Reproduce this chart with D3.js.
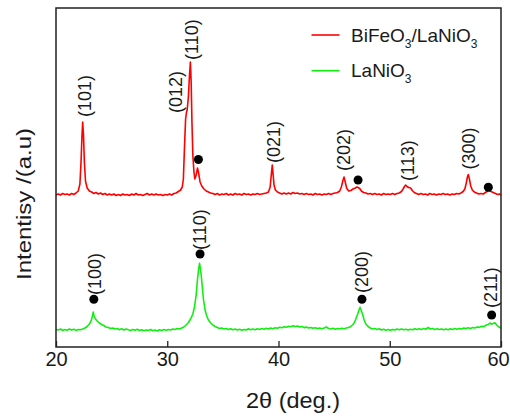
<!DOCTYPE html>
<html>
<head>
<meta charset="utf-8">
<script src="https://cdn.jsdelivr.net/npm/d3@7/dist/d3.min.js"></script>
<style>
    body { margin: 0; background: #fff; }
    text { font-family: "Liberation Sans", Arial, sans-serif; fill: #1a1a1a; }
</style>
</head>
<body>
<div id="chart"><svg></svg></div>
<script>
// BiFeO3/LaNiO3 film, [2theta, intensity a.u.] (offset above the LaNiO3 trace)
var bfoPattern = [
    [20.0, 152], [20.2, 153], [20.4, 152], [20.6, 153.5], [20.8, 152.5], [21.0, 153], [21.2, 152], [21.4, 153.5],
    [21.6, 152.5], [21.8, 154], [22.0, 156], [22.15, 163], [22.25, 185], [22.33, 210], [22.4, 225], [22.47, 212],
    [22.55, 185], [22.65, 166], [22.8, 159], [23.0, 156], [23.2, 155], [23.4, 153.5], [23.6, 154.5], [23.8, 153],
    [24.0, 154], [24.2, 152.5], [24.4, 153.5], [24.6, 152], [24.8, 153], [25.0, 152], [25.2, 153], [25.4, 151.5],
    [25.6, 152.5], [25.8, 151.5], [26.0, 153], [26.2, 152], [26.4, 152.5], [26.6, 151.5], [26.8, 153], [27.0, 152],
    [27.2, 153.5], [27.4, 152], [27.6, 152.5], [27.8, 151.5], [28.0, 152.5], [28.2, 153.5], [28.4, 152], [28.6, 153],
    [28.8, 152], [29.0, 153], [29.2, 152], [29.4, 152.5], [29.6, 151.5], [29.8, 152.5], [30.0, 152], [30.2, 153],
    [30.4, 152], [30.6, 153.5], [30.8, 154], [31.0, 155.5], [31.2, 157], [31.35, 160], [31.45, 168], [31.55, 200],
    [31.65, 228], [31.72, 234], [31.8, 238], [31.9, 250], [32.0, 272], [32.08, 285], [32.15, 265], [32.22, 225],
    [32.3, 192], [32.4, 175], [32.48, 168], [32.6, 172], [32.72, 179], [32.82, 174], [32.95, 165], [33.1, 161],
    [33.3, 158], [33.5, 156], [33.7, 155], [33.9, 154], [34.1, 153.5], [34.3, 152.5], [34.5, 153.5], [34.7, 152],
    [34.9, 153], [35.1, 152.5], [35.3, 153.5], [35.5, 152], [35.7, 153], [35.9, 152], [36.1, 153.5], [36.3, 152.5],
    [36.5, 153], [36.7, 152], [36.9, 153.5], [37.1, 152.5], [37.3, 153], [37.5, 152], [37.7, 153], [37.9, 152.5],
    [38.1, 153.5], [38.3, 152.5], [38.5, 153], [38.7, 153.5], [38.9, 154], [39.1, 155], [39.25, 160], [39.35, 172],
    [39.44, 182], [39.52, 172], [39.6, 162], [39.72, 157], [39.9, 155], [40.1, 154], [40.3, 153], [40.5, 154],
    [40.7, 153], [40.9, 154], [41.1, 153], [41.3, 154.5], [41.5, 153.5], [41.7, 154], [41.9, 153], [42.1, 153.5],
    [42.3, 152.5], [42.5, 153.5], [42.7, 152.5], [42.9, 153], [43.1, 152], [43.3, 153.5], [43.5, 152.5], [43.7, 153],
    [43.9, 152], [44.1, 153], [44.3, 152.5], [44.5, 153.5], [44.7, 152.5], [44.9, 153.5], [45.1, 154], [45.3, 154.5],
    [45.5, 156], [45.65, 160], [45.78, 166], [45.89, 170], [46.0, 165], [46.12, 159], [46.3, 156], [46.5, 156.5],
    [46.7, 158], [46.9, 159], [47.05, 160], [47.15, 159.5], [47.3, 158.5], [47.45, 156], [47.65, 154.5], [47.85, 154],
    [48.05, 153], [48.25, 153.5], [48.45, 152.5], [48.65, 153.5], [48.85, 152.5], [49.05, 153], [49.25, 152],
    [49.45, 153.5], [49.65, 152.5], [49.85, 153], [50.05, 152.5], [50.25, 153.5], [50.45, 152.5], [50.65, 153.5],
    [50.85, 154], [51.05, 155.5], [51.2, 158], [51.32, 160.5], [51.43, 162], [51.55, 160.5], [51.7, 159.5],
    [51.88, 159], [52.02, 156.5], [52.2, 154.5], [52.4, 153.5], [52.6, 152.5], [52.8, 153.5], [53.0, 152.5],
    [53.2, 153], [53.4, 152], [53.6, 153.5], [53.8, 152.5], [54.0, 153], [54.2, 152], [54.4, 153], [54.6, 152.5],
    [54.8, 153.5], [55.0, 152.5], [55.2, 153], [55.4, 152], [55.6, 153], [55.8, 152.5], [56.0, 153.5], [56.2, 153],
    [56.4, 154], [56.6, 155.5], [56.75, 158], [56.88, 164], [56.98, 170], [57.06, 172.5], [57.16, 168], [57.28, 161],
    [57.42, 157], [57.6, 155], [57.8, 154], [58.0, 153], [58.2, 153.5], [58.4, 153], [58.6, 154.5], [58.8, 156],
    [58.95, 156.5], [59.1, 155.5], [59.3, 154.5], [59.5, 153.5], [59.7, 152.5], [59.85, 153], [60.0, 152]
];

// LaNiO3 bottom electrode
var lnoPattern = [
    [20.0, 17.7], [20.2, 17], [20.4, 18], [20.6, 16.5], [20.8, 17.5], [21.0, 16.8], [21.2, 18], [21.4, 17],
    [21.6, 17.8], [21.8, 16.6], [22.0, 17.5], [22.2, 17.2], [22.4, 18], [22.6, 19], [22.8, 20.5], [23.0, 23],
    [23.15, 26], [23.28, 31], [23.35, 35], [23.42, 31], [23.55, 28], [23.7, 26], [23.9, 24], [24.1, 22.5],
    [24.3, 21.5], [24.5, 20], [24.7, 19.5], [24.9, 18.5], [25.1, 19], [25.3, 18], [25.5, 18.5], [25.7, 17.3],
    [25.9, 18.2], [26.1, 17], [26.3, 18], [26.5, 17.2], [26.7, 16.5], [26.9, 17.5], [27.1, 16.8], [27.3, 17.8],
    [27.5, 16.5], [27.7, 17.3], [27.9, 16.2], [28.1, 17], [28.3, 16.5], [28.5, 17.5], [28.7, 16.3], [28.9, 17],
    [29.1, 16], [29.3, 17.2], [29.5, 16.5], [29.7, 17.5], [29.9, 16.8], [30.1, 17.5], [30.3, 17], [30.5, 18],
    [30.7, 17.5], [30.9, 18.5], [31.1, 18], [31.3, 19], [31.5, 20], [31.7, 22], [31.9, 24.5], [32.1, 28],
    [32.3, 33], [32.45, 40], [32.6, 52], [32.72, 68], [32.82, 78], [32.9, 83.7], [32.96, 80], [33.05, 72],
    [33.15, 60], [33.25, 48], [33.4, 37], [33.55, 31], [33.7, 27], [33.9, 24], [34.1, 22], [34.3, 20.5],
    [34.5, 19.5], [34.7, 18.5], [34.9, 19], [35.1, 18], [35.3, 18.5], [35.5, 17.5], [35.7, 18.3], [35.9, 17.2],
    [36.1, 18], [36.3, 17], [36.5, 17.8], [36.7, 16.8], [36.9, 17.6], [37.1, 17], [37.3, 18.2], [37.5, 17.3],
    [37.7, 18], [37.9, 17.2], [38.1, 18.3], [38.3, 17.5], [38.5, 18.5], [38.7, 17.8], [38.9, 18.8], [39.1, 18],
    [39.3, 19], [39.5, 18.3], [39.7, 19.3], [39.9, 18.8], [40.1, 19.8], [40.3, 19.3], [40.5, 20.3], [40.7, 19.8],
    [40.9, 20.8], [41.1, 20.2], [41.3, 21.2], [41.5, 20.5], [41.7, 21], [41.9, 20], [42.1, 20.4], [42.3, 19.4],
    [42.5, 19.9], [42.7, 19], [42.9, 19.6], [43.1, 18.7], [43.3, 19.3], [43.5, 18.5], [43.7, 19], [43.9, 18.3],
    [44.1, 19], [44.3, 20], [44.5, 18.5], [44.7, 18], [44.9, 18.8], [45.1, 17.8], [45.3, 18.5], [45.5, 18],
    [45.7, 18.8], [45.9, 18.3], [46.1, 19], [46.3, 19.5], [46.5, 20.5], [46.7, 22.5], [46.85, 25], [47.0, 29.5],
    [47.12, 33], [47.22, 36.5], [47.33, 39.7], [47.42, 37], [47.55, 33], [47.7, 27], [47.85, 23], [48.05, 20.5],
    [48.25, 19], [48.45, 18], [48.65, 18.6], [48.85, 17.5], [49.05, 18.2], [49.25, 17], [49.45, 17.8], [49.65, 16.8],
    [49.85, 17.5], [50.05, 16.7], [50.25, 17.6], [50.45, 17], [50.65, 17.9], [50.85, 17.2], [51.05, 18], [51.25, 17.3],
    [51.45, 17.8], [51.65, 17], [51.85, 17.8], [52.05, 17.2], [52.25, 18.2], [52.45, 17.4], [52.65, 18.3],
    [52.85, 17.6], [53.05, 18.5], [53.25, 17.8], [53.45, 19.5], [53.65, 18], [53.85, 18.6], [54.05, 17.6],
    [54.25, 18.3], [54.45, 17.5], [54.65, 18.1], [54.85, 17.2], [55.05, 18], [55.25, 17.3], [55.45, 18.2],
    [55.65, 17.5], [55.85, 18.4], [56.05, 17.8], [56.25, 18.6], [56.45, 18], [56.65, 18.9], [56.85, 18.4],
    [57.05, 19.2], [57.25, 18.6], [57.45, 19.5], [57.65, 19], [57.85, 20], [58.05, 19.6], [58.25, 20.8],
    [58.45, 20.4], [58.65, 21.8], [58.85, 22.5], [59.0, 24], [59.15, 22.8], [59.3, 23.6], [59.45, 24.3],
    [59.6, 22], [59.75, 20.5], [59.9, 19.5], [60.0, 18.7]
];

// Miller index labels: [text, 2theta, intensity at foot of label]
var bfoPeakLabels = [
    ["(101)", 22.6, 230], ["(012)", 30.75, 234], ["(110)", 32.2, 287], ["(021)", 39.6, 184],
    ["(202)", 45.9, 176], ["(113)", 51.6, 166], ["(300)", 57.1, 177.5]
];
var lnoPeakLabels = [
    ["(100)", 23.5, 52], ["(110)", 32.95, 97], ["(200)", 47.55, 54], ["(211)", 59.07, 39]
];

// LaNiO3 reflections marked with dots: [2theta, intensity]
var bfoDots = [[32.8, 187.5], [47.15, 167], [58.86, 159.7]];
var lnoDots = [[23.4, 47.7], [32.95, 93], [47.5, 47.7], [59.16, 32]];

var xTicks = [20, 30, 40, 50, 60];

var seriesNames = [
    { main: "BiFeO", sub: "3", tail: "/LaNiO", sub2: "3", color: "#ff0000" },
    { main: "LaNiO", sub: "3", tail: "", sub2: "", color: "#11ee11" }
];


var width = 510,
    height = 418;

var svg = d3.select("#chart svg")
    .attr("width", width)
    .attr("height", height);

var x = d3.scaleLinear().domain([20, 60]).range([56, 501]);
var y = d3.scaleLinear().domain([0, 339]).range([347, 8]);

var line = d3.line()
    .x(function(d) { return x(d[0]); })
    .y(function(d) { return y(d[1]); });

// traces
svg.append("path")
    .datum(lnoPattern)
    .attr("d", line)
    .attr("fill", "none")
    .attr("stroke", seriesNames[1].color)
    .attr("stroke-width", 1.6)
    .attr("stroke-linejoin", "round");

svg.append("path")
    .datum(bfoPattern)
    .attr("d", line)
    .attr("fill", "none")
    .attr("stroke", seriesNames[0].color)
    .attr("stroke-width", 1.6)
    .attr("stroke-linejoin", "round");

// dots
svg.append("g")
    .selectAll("circle")
    .data(bfoDots.concat(lnoDots))
    .enter()
    .append("circle")
    .attr("cx", function(d) { return x(d[0]); })
    .attr("cy", function(d) { return y(d[1]); })
    .attr("r", 4.5)
    .attr("fill", "#000");

// peak labels, rotated
svg.append("g")
    .selectAll("text")
    .data(bfoPeakLabels.concat(lnoPeakLabels))
    .enter()
    .append("text")
    .attr("transform", function(d) {
        return "translate(" + x(d[1]) + "," + y(d[2]) + ") rotate(-90)";
    })
    .attr("dominant-baseline", "central")
    .style("font-size", "18px")
    .text(function(d) { return d[0]; });

// x axis, ticks pointing inward
var xAxis = d3.axisBottom(x)
    .tickValues(xTicks)
    .tickSizeInner(-6)
    .tickSizeOuter(0)
    .tickPadding(5);

var gx = svg.append("g")
    .attr("transform", "translate(0," + 347 + ")")
    .call(xAxis);

gx.select(".domain").remove();
gx.selectAll(".tick line").attr("stroke", "#222").attr("stroke-width", 1.3);
gx.selectAll(".tick text")
    .style("font-size", "20px")
    .style("font-family", "'Liberation Sans', Arial, sans-serif")
    .attr("fill", "#1a1a1a")
    .attr("dx", function(d) { return d === 60 ? -3 : 0; }); // keep the last label inside the page

// frame
svg.append("rect")
    .attr("x", 56)
    .attr("y", 8)
    .attr("width", 501 - 56)
    .attr("height", 347 - 8)
    .attr("fill", "none")
    .attr("stroke", "#222")
    .attr("stroke-width", 1.5);

// axis titles
svg.append("text")
    .attr("x", 293)
    .attr("y", 408)
    .attr("text-anchor", "middle")
    .attr("textLength", 94)
    .attr("lengthAdjust", "spacingAndGlyphs")
    .style("font-size", "22px")
    .text("2θ (deg.)");

svg.append("text")
    .attr("transform", "translate(23,204) rotate(-90)")
    .attr("text-anchor", "middle")
    .attr("dominant-baseline", "central")
    .attr("textLength", 152)
    .attr("lengthAdjust", "spacingAndGlyphs")
    .style("font-size", "21px")
    .text("Intentisy /(a.u)");

// legend
var legend = svg.append("g")
    .selectAll("g")
    .data(seriesNames)
    .enter()
    .append("g")
    .attr("transform", function(d, i) {
        return "translate(0," + (35 + 35.7 * i) + ")";
    });

legend.append("line")
    .attr("x1", 311.5)
    .attr("x2", 339.5)
    .attr("y1", 0)
    .attr("y2", 0)
    .attr("stroke", function(d) { return d.color; })
    .attr("stroke-width", 1.6);

var legendText = legend.append("text")
    .attr("x", 351)
    .attr("y", 6.5)
    .style("font-size", "19px");

legendText.each(function(d) {
    var t = d3.select(this);
    t.append("tspan").text(d.main);
    t.append("tspan").attr("dy", 6).style("font-size", "12px").text(d.sub);
    if (d.tail) {
        t.append("tspan").attr("dy", -6).text(d.tail);
        t.append("tspan").attr("dy", 6).style("font-size", "12px").text(d.sub2);
    }
});
</script>
</body>
</html>
